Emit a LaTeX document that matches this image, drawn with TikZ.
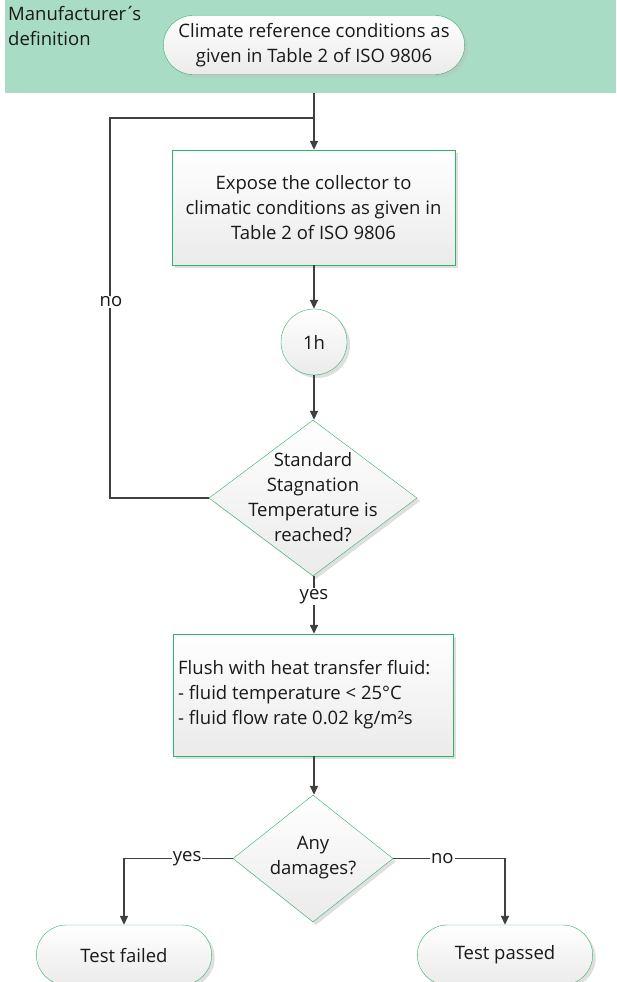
\documentclass[tikz,border=0pt]{standalone}
\usepackage{fontspec}
\setmainfont{Open Sans}
\usetikzlibrary{shapes.geometric,shapes.misc,shadows,arrows.meta}

\definecolor{bandgreen}{RGB}{168,220,196}
\definecolor{boxgreen}{RGB}{46,180,104}
\definecolor{linegray}{RGB}{64,64,64}

\begin{document}
\begin{tikzpicture}[x=1pt,y=-1pt,
    every node/.style={font=\fontsize{18.5}{25}\selectfont, text=black!90},
    box/.style={draw=boxgreen, thin, top color=white, bottom color=black!8,
        drop shadow={shadow xshift=3pt, shadow yshift=-3pt, fill=black!25, opacity=0.5}},
    stepbox/.style={box, rectangle, minimum width=283, minimum height=115, inner sep=2pt},
    endbox/.style={box, rounded rectangle, minimum width=182, minimum height=60},
    decision/.style={box, diamond, inner sep=0pt},
    arrow/.style={draw=linegray, line width=1.6pt, -{Triangle[length=9pt,width=8pt]}},
    line/.style={draw=linegray, line width=1.6pt},
    lbl/.style={fill=white, inner sep=1pt}]
			\useasboundingbox (0,0) rectangle (616,982);
			\fill[bandgreen] (5,0) rectangle (616,93);
			\node[anchor=north west, align=left, inner sep=0pt] (owner) at (8,6) {Manufacturer\kern-1.5pt´\kern-3pt s\\definition};

			\node[endbox, minimum width=308, minimum height=59, align=center] (climate) at (314,45) {Climate reference conditions as\\given in Table 2 of ISO 9806};
			\node[stepbox, align=center] (expose) at (313.5,207.5) {Expose the collector to\\climatic conditions as given in\\Table 2 of ISO 9806};
			\node[box, circle, minimum size=66, inner sep=0pt] (wait) at (314,342) {1h};
			\node[decision, minimum width=208, minimum height=156] (reached) at (313,498) {};
			\node[align=center, inner sep=0pt] (reachedtxt) at (313,497) {Standard\\Stagnation\\Temperature is\\reached?};
			\node[stepbox, minimum width=280, minimum height=122, align=left] (flush) at (313,695) {};
			\node[anchor=west, align=left, inner sep=0pt] (flushtxt) at (178,695) {Flush with heat transfer fluid:\\- fluid temperature < 25°C\\- fluid flow rate 0.02 kg/m²s};
			\node[decision, minimum width=160, minimum height=127] (damage) at (313,858.5) {};
			\node[align=center, inner sep=0pt] (damagetxt) at (313,858) {Any\\damages?};
			\node[endbox] (failed) at (124,955) {Test failed};
			\node[endbox] (passed) at (505,955) {Test passed};

			\coordinate (bandbot) at (314,93);
			\coordinate (join) at (314,118);
			\coordinate (nocorner) at (110,118);

			\draw[arrow] (bandbot) -- (expose.north -| bandbot);
			\draw[line] (reached.west) -| (nocorner) -- (join);
			\node[lbl] (nolbl) at (111,302) {no};
			\draw[arrow] (expose.south -| wait) -- (wait);
			\draw[arrow] (wait) -- (reached.north -| wait);
			\draw[arrow] (reached.south -| wait) -- (flush.north -| wait) node[lbl, pos=0.35] (yeslbl) {yes};
			\draw[arrow] (flush.south -| wait) -- (damage.north -| wait);
			\draw[arrow] (damage.west) -| (failed.north) node[lbl, pos=0.21] (yes2lbl) {yes};
			\draw[arrow] (damage.east) -| (passed.north) node[lbl, pos=0.22] (no2lbl) {no};
		\end{tikzpicture}
\end{document}
